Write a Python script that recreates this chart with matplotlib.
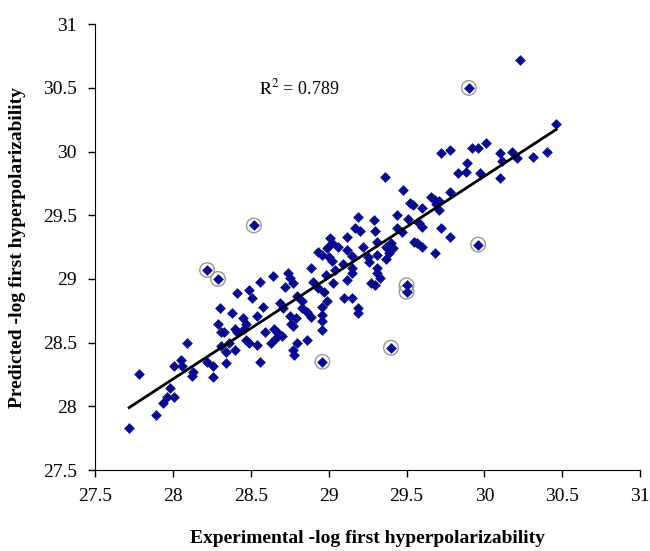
import matplotlib.pyplot as plt
import numpy as np

# experimental vs predicted -log first hyperpolarizability
exp_vals = [
    27.72, 27.78, 27.89, 27.94, 27.96, 27.98, 28.01, 28.01, 28.05, 28.09,
    28.06, 28.13, 28.12, 28.22, 28.26, 28.26, 28.30, 28.38, 28.29, 28.31,
    28.33, 28.40, 28.41, 28.45, 28.47, 28.46, 28.31, 28.34, 28.34, 28.40,
    28.47, 28.36, 28.49, 28.54, 28.56, 28.59, 28.58, 28.54, 28.63, 28.66,
    28.65, 28.67, 28.70, 28.69, 28.71, 28.75, 28.79, 28.76, 28.77, 28.80,
    28.77, 28.78, 28.86, 28.83, 28.86, 28.89, 28.80, 28.83, 28.96, 28.96,
    28.96, 28.96, 28.99, 29.10, 29.15, 29.19, 29.19, 28.96,
    28.41, 28.49, 28.51, 28.56, 28.64, 28.74, 28.75, 28.77, 28.72, 28.22,
    28.29, 28.52, 28.89, 28.90, 28.93, 28.97, 29.03, 29.04, 28.98, 29.09,
    29.15, 29.15, 29.12, 28.93, 28.96, 28.99, 29.00, 29.02, 29.06, 29.01,
    29.02, 29.12, 29.12, 29.15, 29.22, 29.19, 29.17, 29.20, 29.29, 29.30,
    29.31, 29.25, 29.26, 29.31, 29.31, 29.27, 29.30, 29.33, 29.37, 29.40,
    29.41, 29.39, 29.37, 29.31, 29.36, 29.44, 29.44, 29.47, 29.48, 29.52,
    29.54, 29.51, 29.60, 29.66, 29.68, 29.69, 29.71, 29.71, 29.58, 29.60,
    29.55, 29.57, 29.60, 29.72, 29.78, 29.78, 29.68, 29.72, 29.78, 29.83,
    29.88, 29.89, 29.92, 29.96, 30.01, 29.97, 30.10, 30.11, 30.10, 29.96,
    29.50, 29.50, 29.40, 29.90, 30.23, 30.18, 30.21, 30.31, 30.40, 30.46,
]
pred_vals = [
    27.83, 28.25, 27.93, 28.03, 28.07, 28.14, 28.07, 28.32, 28.36, 28.50,
    28.32, 28.27, 28.24, 28.35, 28.32, 28.23, 28.77, 28.73, 28.65, 28.58,
    28.58, 28.61, 28.58, 28.69, 28.65, 28.61, 28.47, 28.43, 28.34, 28.44,
    28.52, 28.50, 28.50, 28.48, 28.35, 28.58, 28.78, 28.71, 28.50, 28.54,
    28.61, 28.58, 28.55, 28.81, 28.77, 28.71, 28.69, 28.65, 28.63, 28.50,
    28.44, 28.40, 28.52, 28.77, 28.74, 28.70, 28.87, 28.83, 28.78, 28.72,
    28.67, 28.60, 28.83, 28.85, 28.85, 28.77, 28.73, 28.35,
    28.89, 28.91, 28.85, 28.98, 29.02, 29.05, 29.01, 28.97, 28.94, 29.07,
    29.00, 29.42, 29.09, 28.98, 28.93, 28.90, 28.97, 29.07, 29.03, 29.12,
    29.09, 29.05, 28.99, 29.21, 29.19, 29.24, 29.17, 29.14, 29.25, 29.32,
    29.28, 29.33, 29.23, 29.18, 29.25, 29.49, 29.40, 29.38, 29.46, 29.38,
    29.29, 29.17, 29.13, 29.09, 29.05, 28.97, 28.95, 29.01, 29.25, 29.28,
    29.24, 29.20, 29.16, 29.19, 29.80, 29.50, 29.40, 29.37, 29.70, 29.60,
    29.58, 29.47, 29.56, 29.64, 29.62, 29.59, 29.54, 29.61, 29.44, 29.41,
    29.29, 29.28, 29.25, 29.40, 29.68, 29.33, 29.20, 29.99, 30.01, 29.83,
    29.84, 29.91, 30.03, 30.03, 30.07, 29.83, 29.99, 29.93, 29.79, 29.27,
    28.95, 28.90, 28.46, 30.50, 30.72, 30.00, 29.95, 29.96, 30.00, 30.22,
]

# the circled outliers
out_exp = [28.22, 28.29, 28.52, 28.96, 29.40, 29.50, 29.50, 29.90, 29.96]
out_pred = [29.07, 29.00, 29.42, 28.35, 28.46, 28.95, 28.90, 30.50, 29.27]

r2_text = r'$\mathrm{R^2}$ = 0.789'

plt.rcParams['font.family'] = 'Liberation Serif'
plt.rcParams['mathtext.fontset'] = 'stix'
fig = plt.figure(figsize=(6.5, 5.51), dpi=100)
ax = fig.add_axes([0.146, 0.147, 0.839, 0.809])

x = np.array(exp_vals)
y = np.array(pred_vals)
ax.scatter(x, y, marker='D', s=30, color='#0a0a8c', linewidths=0, zorder=3)
ax.scatter(out_exp, out_pred, marker='o', s=110, facecolors='none',
           edgecolors='#999999', linewidths=1.0, zorder=2)

# linear trendline
k, b = np.polyfit(x, y, 1)
xs = np.array([x.min(), x.max()])
ax.plot(xs, k * xs + b, color='black', linewidth=2, zorder=4)

ax.text(28.81, 30.5, r2_text, ha='center', va='center', fontsize=13)

ax.set_xlim(27.5, 31)
ax.set_ylim(27.5, 31)
ticks = [27.5, 28, 28.5, 29, 29.5, 30, 30.5, 31]
labels = ['27.5', '28', '28.5', '29', '29.5', '30', '30.5', '31']
ax.set_xticks(ticks)
ax.set_yticks(ticks)
ax.set_xticklabels(labels, fontsize=14)
ax.set_yticklabels(labels, fontsize=14)
ax.tick_params(direction='out', length=5, width=1, pad=8)
for side in ['top', 'right']:
    ax.spines[side].set_visible(False)

ax.set_xlabel('Experimental -log first hyperpolarizability', fontsize=14,
              fontweight='bold', labelpad=18)
ax.set_ylabel('Predicted -log first hyperpolarizability', fontsize=14,
              fontweight='bold', labelpad=12)

fig.savefig('out.png', dpi=100)
